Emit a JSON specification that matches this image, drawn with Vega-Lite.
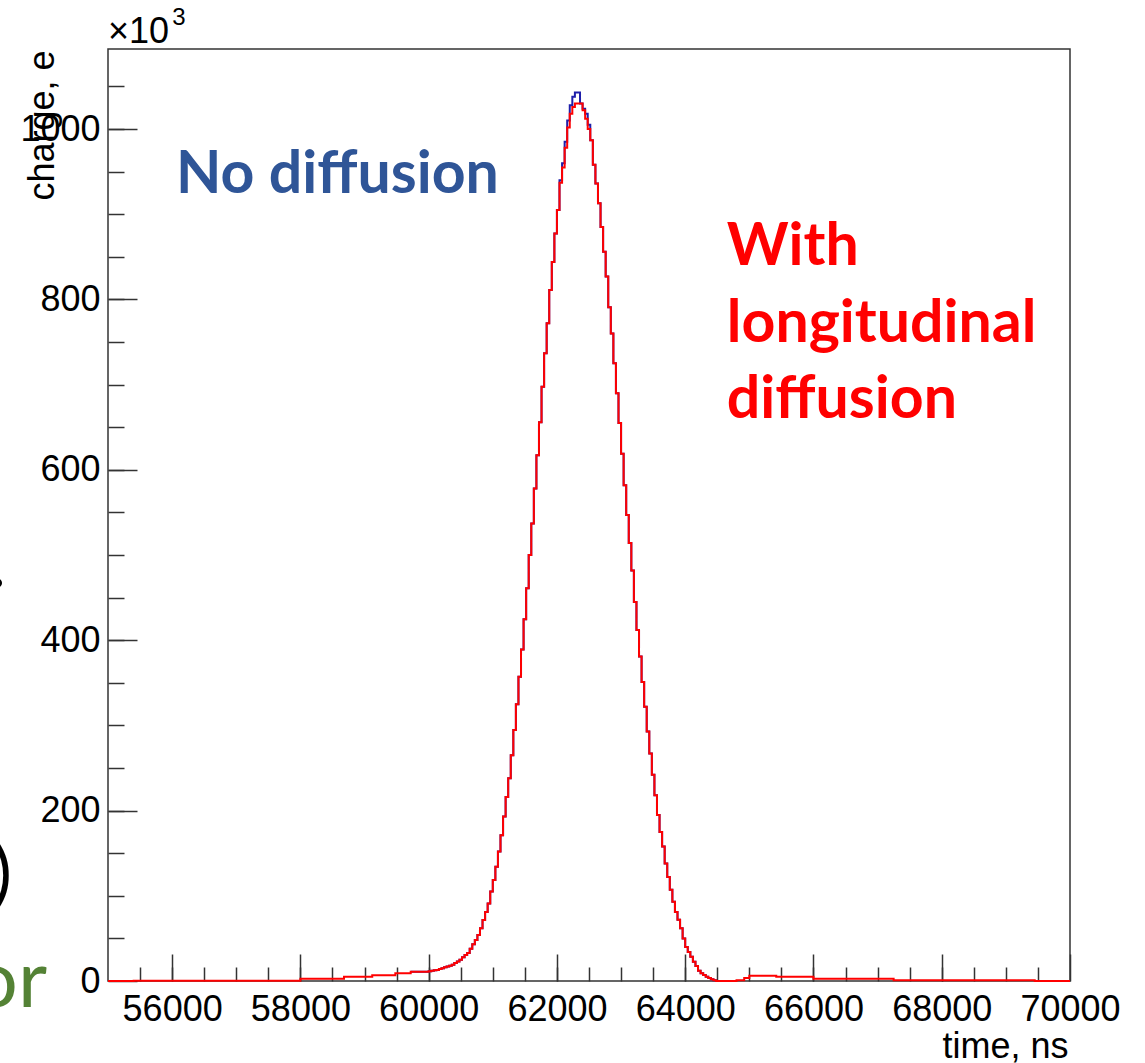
{
  "$schema": "https://vega.github.io/schema/vega-lite/v6.json",
  "width": 962,
  "height": 932,
  "autosize": {"type": "none"},
  "padding": {"left": 108, "top": 49, "right": 75, "bottom": 82},
  "background": "white",
  "config": {
    "view": {"stroke": "#333333", "strokeWidth": 1.5},
    "axis": {"grid": false, "domain": false, "tickColor": "#333333", "tickWidth": 1.5, "labelFont": "Liberation Sans", "labelFontSize": 36, "labelColor": "#000000", "titleFont": "Liberation Sans", "titleFontSize": 36, "titleFontWeight": "normal", "titleColor": "#000000"}
  },
  "datasets": {
    "blue": [
      {"t": 59720, "v": 11}, {"t": 60000, "v": 11.5}, {"t": 60040, "v": 12}, {"t": 60080, "v": 12.5}, {"t": 60120, "v": 13}, {"t": 60160, "v": 14}, {"t": 60200, "v": 15}, {"t": 60240, "v": 16}, {"t": 60280, "v": 17}, {"t": 60320, "v": 18}, {"t": 60360, "v": 19}, {"t": 60400, "v": 21}, {"t": 60440, "v": 23}, {"t": 60480, "v": 25}, {"t": 60520, "v": 28}, {"t": 60560, "v": 30.5}, {"t": 60600, "v": 33}, {"t": 60640, "v": 38}, {"t": 60680, "v": 43}, {"t": 60720, "v": 48}, {"t": 60760, "v": 54}, {"t": 60800, "v": 62}, {"t": 60840, "v": 71.6}, {"t": 60880, "v": 81}, {"t": 60920, "v": 91}, {"t": 60960, "v": 105}, {"t": 61000, "v": 118.5}, {"t": 61040, "v": 134}, {"t": 61080, "v": 152}, {"t": 61120, "v": 171}, {"t": 61160, "v": 193}, {"t": 61200, "v": 216}, {"t": 61240, "v": 238}, {"t": 61280, "v": 265}, {"t": 61320, "v": 294.6}, {"t": 61360, "v": 325}, {"t": 61400, "v": 357}, {"t": 61440, "v": 389}, {"t": 61480, "v": 424.5}, {"t": 61520, "v": 461}, {"t": 61560, "v": 500}, {"t": 61600, "v": 537}, {"t": 61640, "v": 578}, {"t": 61680, "v": 617}, {"t": 61720, "v": 656}, {"t": 61760, "v": 697.5}, {"t": 61800, "v": 737}, {"t": 61840, "v": 772}, {"t": 61880, "v": 811}, {"t": 61920, "v": 844}, {"t": 61960, "v": 877.5}, {"t": 62000, "v": 905}, {"t": 62040, "v": 940}, {"t": 62080, "v": 960}, {"t": 62120, "v": 985}, {"t": 62160, "v": 1010}, {"t": 62200, "v": 1028}, {"t": 62240, "v": 1038}, {"t": 62280, "v": 1043}, {"t": 62320, "v": 1043}, {"t": 62360, "v": 1030}, {"t": 62400, "v": 1024}, {"t": 62440, "v": 1018}, {"t": 62480, "v": 1005}, {"t": 62520, "v": 987}, {"t": 62560, "v": 958}, {"t": 62600, "v": 936}, {"t": 62640, "v": 913}, {"t": 62680, "v": 885}, {"t": 62720, "v": 856}, {"t": 62760, "v": 827}, {"t": 62800, "v": 791}, {"t": 62840, "v": 760}, {"t": 62880, "v": 725}, {"t": 62920, "v": 690}, {"t": 62960, "v": 655}, {"t": 63000, "v": 619}, {"t": 63040, "v": 582}, {"t": 63080, "v": 547}, {"t": 63120, "v": 514}, {"t": 63160, "v": 482}, {"t": 63200, "v": 445}, {"t": 63240, "v": 412}, {"t": 63280, "v": 381}, {"t": 63320, "v": 351}, {"t": 63360, "v": 322}, {"t": 63400, "v": 293}, {"t": 63440, "v": 267}, {"t": 63480, "v": 242}, {"t": 63520, "v": 218}, {"t": 63560, "v": 195}, {"t": 63600, "v": 175}, {"t": 63640, "v": 158}, {"t": 63680, "v": 138}, {"t": 63720, "v": 122}, {"t": 63760, "v": 107}, {"t": 63800, "v": 93}, {"t": 63840, "v": 81}, {"t": 63880, "v": 72}, {"t": 63920, "v": 62}, {"t": 63960, "v": 50}, {"t": 64000, "v": 40}, {"t": 64040, "v": 34}, {"t": 64080, "v": 28.5}, {"t": 64120, "v": 22.7}, {"t": 64160, "v": 17.6}, {"t": 64200, "v": 12}, {"t": 64240, "v": 9}, {"t": 64280, "v": 7}, {"t": 64320, "v": 5}, {"t": 64360, "v": 3.5}, {"t": 64400, "v": 2}, {"t": 64440, "v": 1}, {"t": 64480, "v": 0}, {"t": 64600, "v": 0}
    ],
    "red": [
      {"t": 55000, "v": 0}, {"t": 55400, "v": 0.3}, {"t": 58000, "v": 2.7}, {"t": 58680, "v": 5}, {"t": 59120, "v": 6.7}, {"t": 59480, "v": 9}, {"t": 59720, "v": 11},
      {"t": 60000, "v": 11.5}, {"t": 60040, "v": 12}, {"t": 60080, "v": 12.5}, {"t": 60120, "v": 13}, {"t": 60160, "v": 14}, {"t": 60200, "v": 15}, {"t": 60240, "v": 16}, {"t": 60280, "v": 17}, {"t": 60320, "v": 18}, {"t": 60360, "v": 19}, {"t": 60400, "v": 21}, {"t": 60440, "v": 23}, {"t": 60480, "v": 25}, {"t": 60520, "v": 28}, {"t": 60560, "v": 30.5}, {"t": 60600, "v": 33}, {"t": 60640, "v": 38}, {"t": 60680, "v": 43}, {"t": 60720, "v": 48}, {"t": 60760, "v": 54}, {"t": 60800, "v": 62}, {"t": 60840, "v": 71.6}, {"t": 60880, "v": 81}, {"t": 60920, "v": 91}, {"t": 60960, "v": 105}, {"t": 61000, "v": 118.5}, {"t": 61040, "v": 134}, {"t": 61080, "v": 152}, {"t": 61120, "v": 171}, {"t": 61160, "v": 193}, {"t": 61200, "v": 216}, {"t": 61240, "v": 238}, {"t": 61280, "v": 265}, {"t": 61320, "v": 294.6}, {"t": 61360, "v": 325}, {"t": 61400, "v": 357}, {"t": 61440, "v": 389}, {"t": 61480, "v": 424.5}, {"t": 61520, "v": 461}, {"t": 61560, "v": 500}, {"t": 61600, "v": 537}, {"t": 61640, "v": 578}, {"t": 61680, "v": 617}, {"t": 61720, "v": 656}, {"t": 61760, "v": 697.5}, {"t": 61800, "v": 737}, {"t": 61840, "v": 772}, {"t": 61880, "v": 811}, {"t": 61920, "v": 844}, {"t": 61960, "v": 877.5}, {"t": 62000, "v": 905}, {"t": 62040, "v": 937}, {"t": 62080, "v": 955}, {"t": 62120, "v": 978}, {"t": 62160, "v": 1002}, {"t": 62200, "v": 1018}, {"t": 62240, "v": 1026}, {"t": 62280, "v": 1030}, {"t": 62320, "v": 1030}, {"t": 62360, "v": 1030}, {"t": 62400, "v": 1022}, {"t": 62440, "v": 1012}, {"t": 62480, "v": 1000}, {"t": 62520, "v": 987}, {"t": 62560, "v": 958}, {"t": 62600, "v": 936}, {"t": 62640, "v": 913}, {"t": 62680, "v": 885}, {"t": 62720, "v": 856}, {"t": 62760, "v": 827}, {"t": 62800, "v": 791}, {"t": 62840, "v": 760}, {"t": 62880, "v": 725}, {"t": 62920, "v": 690}, {"t": 62960, "v": 655}, {"t": 63000, "v": 619}, {"t": 63040, "v": 582}, {"t": 63080, "v": 547}, {"t": 63120, "v": 514}, {"t": 63160, "v": 482}, {"t": 63200, "v": 445}, {"t": 63240, "v": 412}, {"t": 63280, "v": 381}, {"t": 63320, "v": 351}, {"t": 63360, "v": 322}, {"t": 63400, "v": 293}, {"t": 63440, "v": 267}, {"t": 63480, "v": 242}, {"t": 63520, "v": 218}, {"t": 63560, "v": 195}, {"t": 63600, "v": 175}, {"t": 63640, "v": 158}, {"t": 63680, "v": 138}, {"t": 63720, "v": 122}, {"t": 63760, "v": 107}, {"t": 63800, "v": 93}, {"t": 63840, "v": 81}, {"t": 63880, "v": 72}, {"t": 63920, "v": 62}, {"t": 63960, "v": 50}, {"t": 64000, "v": 40}, {"t": 64040, "v": 34}, {"t": 64080, "v": 28.5}, {"t": 64120, "v": 22.7}, {"t": 64160, "v": 17.6}, {"t": 64200, "v": 12}, {"t": 64240, "v": 9}, {"t": 64280, "v": 7}, {"t": 64320, "v": 5}, {"t": 64360, "v": 3.5}, {"t": 64400, "v": 2}, {"t": 64440, "v": 1}, {"t": 64480, "v": 0},
      {"t": 64800, "v": 1}, {"t": 64920, "v": 3.5}, {"t": 65000, "v": 6.2}, {"t": 65420, "v": 5}, {"t": 66000, "v": 2.5}, {"t": 67250, "v": 0.8}, {"t": 69450, "v": 0}, {"t": 70000, "v": 0}
    ],
    "noteBlue": [{"t": 56060, "v": 925, "label": "No diffusion"}],
    "noteRed": [{"t": 64649, "v": 840, "label": "With\nlongitudinal\ndiffusion"}],
    "mult": [{"t": 55000, "v": 1101, "label": "×10"}],
    "sup": [{"t": 56000, "v": 1122, "label": "3"}],
    "fragGreen": [{"t": 54049, "v": -30, "label": "or"}],
    "fragBlack": [{"t": 53503, "v": 97, "label": ")"}, {"t": 53410, "v": 462, "label": "."}]
  },
  "resolve": {"axis": {"x": "independent", "y": "independent"}},
  "layer": [
    {
      "data": {"name": "blue"},
      "mark": {"type": "line", "interpolate": "step-after", "color": "#1e1eaa", "strokeWidth": 2},
      "encoding": {
        "x": {"field": "t", "type": "quantitative", "scale": {"domain": [55000, 70000], "nice": false, "zero": false},
          "axis": {"orient": "bottom", "values": [56000, 58000, 60000, 62000, 64000, 66000, 68000, 70000], "format": "d", "tickSize": -27, "labelPadding": 38, "labelFlush": false, "labelOverlap": false, "title": "time, ns", "titleAnchor": "end", "titleAlign": "right", "titleX": 960, "titleY": 76, "titleBaseline": "alphabetic"}},
        "y": {"field": "v", "type": "quantitative", "scale": {"domain": [0, 1094], "nice": false, "zero": false},
          "axis": {"orient": "left", "values": [0, 200, 400, 600, 800, 1000], "format": "d", "tickSize": -29, "labelPadding": 37, "labelFlush": false, "labelOverlap": false, "title": "charge, e", "titleAngle": 270, "titleAnchor": "end", "titleAlign": "right", "titleX": -55, "titleY": 1, "titleBaseline": "alphabetic"}}
      }
    },
    {
      "data": {"name": "red"},
      "mark": {"type": "line", "interpolate": "step-after", "color": "#ff0000", "strokeWidth": 2},
      "encoding": {
        "x": {"field": "t", "type": "quantitative", "scale": {"domain": [55000, 70000], "nice": false, "zero": false},
          "axis": {"orient": "bottom", "values": [55500, 56000, 56500, 57000, 57500, 58000, 58500, 59000, 59500, 60000, 60500, 61000, 61500, 62000, 62500, 63000, 63500, 64000, 64500, 65000, 65500, 66000, 66500, 67000, 67500, 68000, 68500, 69000, 69500], "tickSize": -14, "labels": false, "title": null}},
        "y": {"field": "v", "type": "quantitative", "scale": {"domain": [0, 1094], "nice": false, "zero": false},
          "axis": {"orient": "left", "values": [50, 100, 150, 200, 250, 300, 350, 400, 450, 500, 550, 600, 650, 700, 750, 800, 850, 900, 950, 1000, 1050], "tickSize": -16, "labels": false, "title": null}}
      }
    },
    {
      "data": {"name": "noteBlue"},
      "mark": {"type": "text", "font": "Lato", "fontWeight": "bold", "fontSize": 59, "color": "#2F5597", "align": "left", "baseline": "alphabetic"},
      "encoding": {
        "x": {"field": "t", "type": "quantitative", "scale": {"domain": [55000, 70000], "nice": false, "zero": false}, "axis": null},
        "y": {"field": "v", "type": "quantitative", "scale": {"domain": [0, 1094], "nice": false, "zero": false}, "axis": null},
        "text": {"field": "label"}
      }
    },
    {
      "data": {"name": "noteRed"},
      "mark": {"type": "text", "font": "Lato", "fontWeight": "bold", "fontSize": 59, "color": "#FF0000", "align": "left", "baseline": "alphabetic", "lineBreak": "\n", "lineHeight": 76.5},
      "encoding": {
        "x": {"field": "t", "type": "quantitative", "scale": {"domain": [55000, 70000], "nice": false, "zero": false}, "axis": null},
        "y": {"field": "v", "type": "quantitative", "scale": {"domain": [0, 1094], "nice": false, "zero": false}, "axis": null},
        "text": {"field": "label"}
      }
    },
    {
      "data": {"name": "mult"},
      "mark": {"type": "text", "font": "Liberation Sans", "fontSize": 36, "color": "#000000", "align": "left", "baseline": "alphabetic"},
      "encoding": {
        "x": {"field": "t", "type": "quantitative", "scale": {"domain": [55000, 70000], "nice": false, "zero": false}, "axis": null},
        "y": {"field": "v", "type": "quantitative", "scale": {"domain": [0, 1094], "nice": false, "zero": false}, "axis": null},
        "text": {"field": "label"}
      }
    },
    {
      "data": {"name": "sup"},
      "mark": {"type": "text", "font": "Liberation Sans", "fontSize": 24, "color": "#000000", "align": "left", "baseline": "alphabetic"},
      "encoding": {
        "x": {"field": "t", "type": "quantitative", "scale": {"domain": [55000, 70000], "nice": false, "zero": false}, "axis": null},
        "y": {"field": "v", "type": "quantitative", "scale": {"domain": [0, 1094], "nice": false, "zero": false}, "axis": null},
        "text": {"field": "label"}
      }
    },
    {
      "data": {"name": "fragGreen"},
      "mark": {"type": "text", "font": "Lato", "fontSize": 80, "color": "#548235", "align": "right", "baseline": "alphabetic"},
      "encoding": {
        "x": {"field": "t", "type": "quantitative", "scale": {"domain": [55000, 70000], "nice": false, "zero": false}, "axis": null},
        "y": {"field": "v", "type": "quantitative", "scale": {"domain": [0, 1094], "nice": false, "zero": false}, "axis": null},
        "text": {"field": "label"}
      }
    },
    {
      "data": {"name": "fragBlack"},
      "mark": {"type": "text", "font": "Lato", "fontSize": 72, "color": "#000000", "align": "right", "baseline": "alphabetic"},
      "encoding": {
        "x": {"field": "t", "type": "quantitative", "scale": {"domain": [55000, 70000], "nice": false, "zero": false}, "axis": null},
        "y": {"field": "v", "type": "quantitative", "scale": {"domain": [0, 1094], "nice": false, "zero": false}, "axis": null},
        "text": {"field": "label"}
      }
    }
  ]
}
